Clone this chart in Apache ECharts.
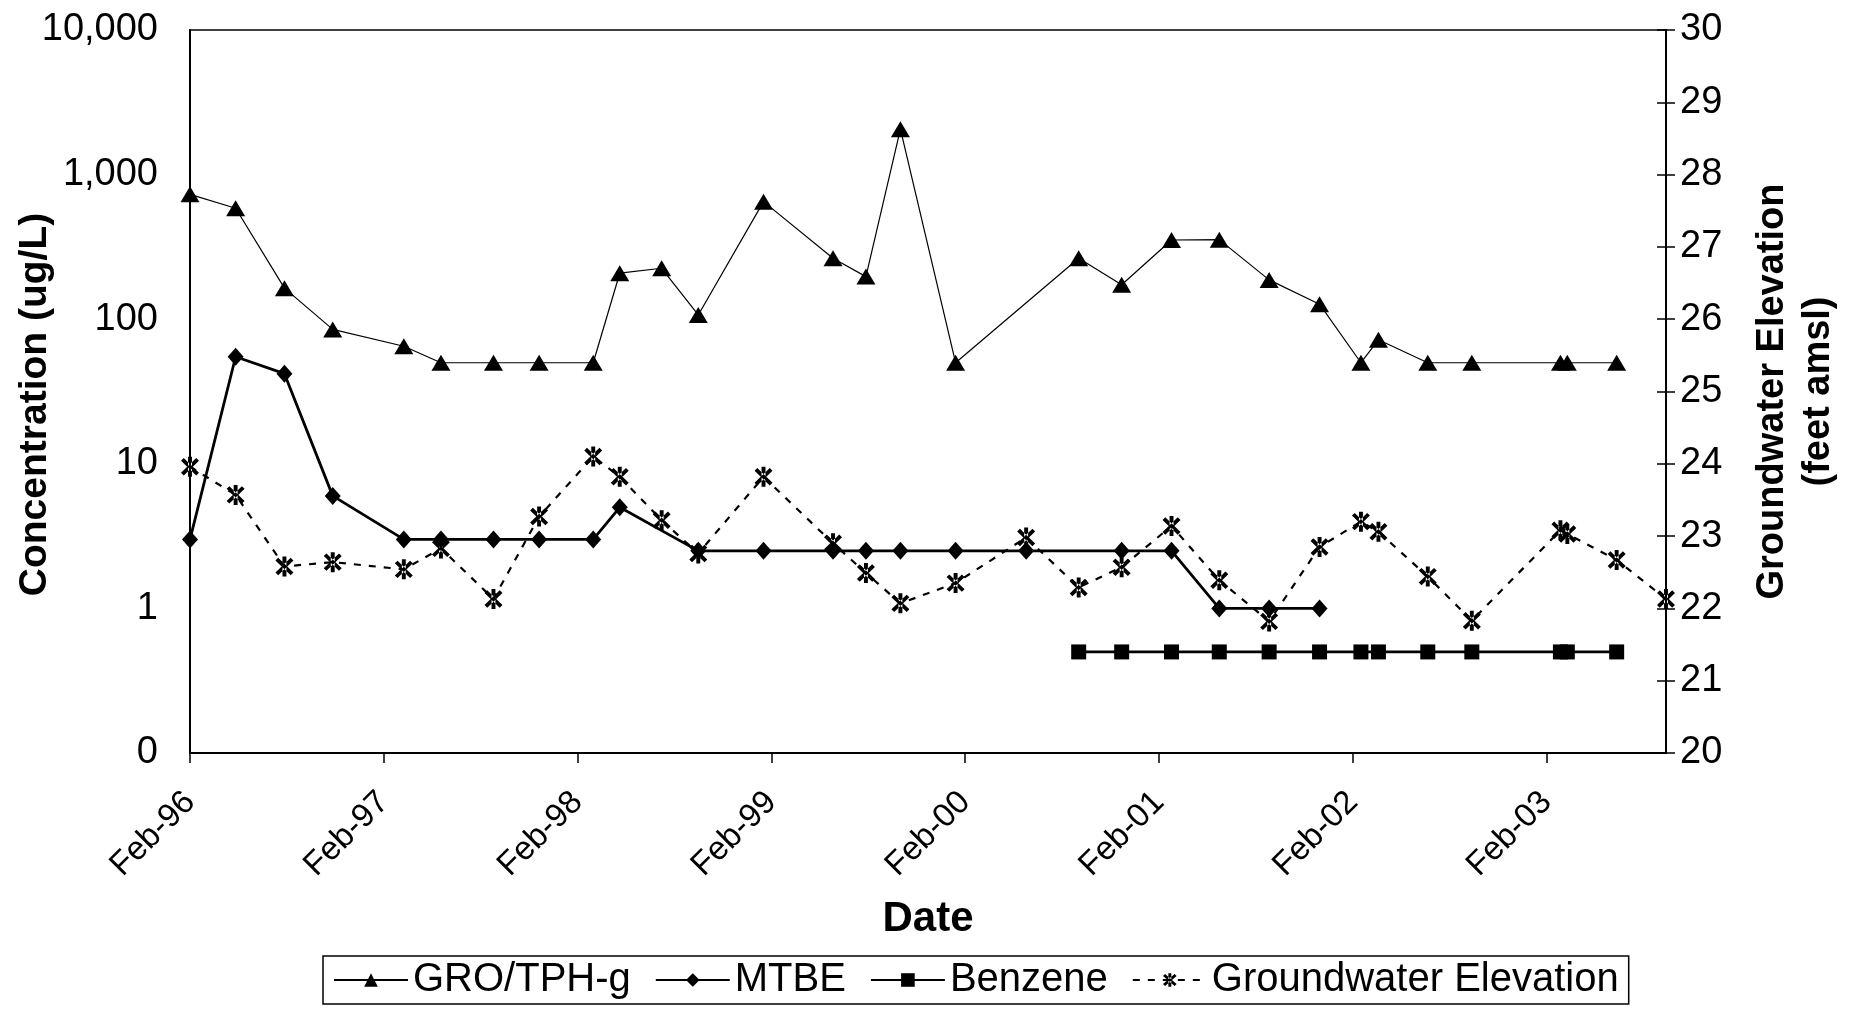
<!DOCTYPE html>
<html>
<head>
<meta charset="utf-8">
<script src="https://cdn.jsdelivr.net/npm/echarts@6/dist/echarts.min.js"></script>
<style>
html,body{margin:0;padding:0;background:#fff;}
#chart{width:1850px;height:1013px;}
</style>
</head>
<body>
<div id="chart"></div>
<script>
// ---- data ----
const xTickLabels = ['Feb-96','Feb-97','Feb-98','Feb-99','Feb-00','Feb-01','Feb-02','Feb-03'];
const axisStartDate = '1996-02-01';
const axisEndDate = '2003-09-14';

const groDates = ['1996-02-01','1996-04-27','1996-07-28','1996-10-27','1997-03-10','1997-05-19','1997-08-26','1997-11-20','1998-03-02','1998-04-21','1998-07-09','1998-09-16','1999-01-17','1999-05-28','1999-07-29','1999-10-02','2000-01-14','2000-09-02','2000-11-22','2001-02-24','2001-05-25','2001-08-27','2001-11-30','2002-02-16','2002-03-21','2002-06-22','2002-09-13','2003-02-27','2003-03-12','2003-06-13'];
const groValues = [730,585,164,85,65,50,50,50,50,208,225,107,650,264,197,2060,50,264,173,353,355,187,127,50,72,50,50,50,50,50];

const mtbeDates = ['1996-02-01','1996-04-27','1996-07-28','1996-10-27','1997-03-10','1997-05-19','1997-08-26','1997-11-20','1998-03-02','1998-04-21','1998-09-16','1999-01-17','1999-05-28','1999-07-29','1999-10-02','2000-01-14','2000-05-26','2000-11-22','2001-02-24','2001-05-25','2001-08-27','2001-11-30'];
const mtbeValues = [3,55,42,6,3,3,3,3,3,5,2.5,2.5,2.5,2.5,2.5,2.5,2.5,2.5,2.5,1,1,1];

const benzeneDates = ['2000-09-02','2000-11-22','2001-02-24','2001-05-25','2001-08-27','2001-11-30','2002-02-16','2002-03-21','2002-06-22','2002-09-13','2003-02-27','2003-03-12','2003-06-13'];
const benzeneValues = [0.5,0.5,0.5,0.5,0.5,0.5,0.5,0.5,0.5,0.5,0.5,0.5,0.5];

const gwDates = ['1996-02-01','1996-04-27','1996-07-28','1996-10-27','1997-03-10','1997-05-19','1997-08-26','1997-11-20','1998-03-02','1998-04-21','1998-07-09','1998-09-16','1999-01-17','1999-05-28','1999-07-29','1999-10-02','2000-01-14','2000-05-26','2000-09-02','2000-11-22','2001-02-24','2001-05-25','2001-08-27','2001-11-30','2002-02-16','2002-03-21','2002-06-22','2002-09-13','2003-02-27','2003-03-12','2003-06-13','2003-09-14'];
const gwValues = [23.96,23.57,22.58,22.64,22.54,22.83,22.13,23.27,24.10,23.82,23.22,22.76,23.82,22.90,22.49,22.07,22.35,22.98,22.29,22.57,23.14,22.39,21.82,22.85,23.20,23.06,22.44,21.83,23.08,23.03,22.67,22.13];

const concTicks = [0.1,1,10,100,1000,10000];
const elevMin = 20, elevMax = 30;

// ---- helpers ----
function dayNum(s){const p=s.split('-').map(Number);return Date.UTC(p[0],p[1]-1,p[2]);}
const T0 = dayNum(axisStartDate);
function yrs(s){return (dayNum(s)-T0)/(365.25*86400000);}
function pairs(dates, vals){return dates.map((d,i)=>[yrs(d), vals[i]]);}
function fmtNum(v){
  if (v < 0.5) return '0';
  const r = Math.round(v);
  return String(r).replace(/\B(?=(\d{3})+(?!\d))/g, ',');
}

const FONT = "'Liberation Sans', Arial, sans-serif";
const starPath = 'path://M-1.8,-9.5L1.8,-9.5L1.8,9.5L-1.8,9.5Z M-8.27,-5.73L5.73,8.27L8.27,5.73L-5.73,-8.27Z M-5.73,8.27L8.27,-5.73L5.73,-8.27L-8.27,5.73Z';

const chart = echarts.init(document.getElementById('chart'), null, {renderer:'canvas'});
chart.setOption({
  animation:false,
  backgroundColor:'#ffffff',
  textStyle:{fontFamily:FONT,color:'#000'},
  grid:{left:190,right:184,top:30,bottom:260,show:true,borderColor:'#000',borderWidth:1.5,containLabel:false,outerBoundsMode:'none'},
  legend:{
    left:323, top:956, orient:'horizontal',
    borderColor:'#000', borderWidth:1.5, padding:[4,10],
    itemWidth:74, itemHeight:17, itemGap:24,
    textStyle:{fontSize:40,color:'#000',fontFamily:FONT},
    data:['GRO/TPH-g','MTBE','Benzene','Groundwater Elevation']
  },
  xAxis:{
    type:'value', min:0, max:yrs(axisEndDate), interval:1,
    name:'Date', nameLocation:'middle', nameGap:145, nameMoveOverlap:false,
    nameTextStyle:{fontSize:42,fontWeight:'bold',color:'#000',fontFamily:FONT},
    axisLine:{show:true,lineStyle:{color:'#000',width:2}},
    axisTick:{show:true,length:10,lineStyle:{color:'#000',width:1.5}},
    splitLine:{show:false},
    axisLabel:{
      rotate:45, fontSize:33, color:'#000', margin:44, showMaxLabel:false,
      formatter:function(v){
        const k = Math.round(v);
        if (Math.abs(v-k) > 0.01 || k < 0 || k >= xTickLabels.length) return '';
        return xTickLabels[k];
      }
    }
  },
  yAxis:[
    {
      type:'log', logBase:10, min:concTicks[0], max:concTicks[concTicks.length-1],
      name:'Concentration (ug/L)', nameLocation:'middle', nameGap:135, nameRotate:90, nameMoveOverlap:false,
      nameTextStyle:{fontSize:39,fontWeight:'bold',color:'#000',fontFamily:FONT,padding:[0,26,0,0]},
      axisLine:{show:true,lineStyle:{color:'#000',width:2}},
      axisTick:{show:false},
      splitLine:{show:false},
      axisLabel:{fontSize:38,color:'#000',margin:32,formatter:fmtNum}
    },
    {
      type:'value', min:elevMin, max:elevMax, interval:1, position:'right',
      name:'Groundwater Elevation\n(feet amsl)', nameLocation:'middle', nameGap:84, nameRotate:90, nameMoveOverlap:false,
      nameTextStyle:{fontSize:38,fontWeight:'bold',color:'#000',lineHeight:46,fontFamily:FONT},
      axisLine:{show:true,lineStyle:{color:'#000',width:2}},
      axisTick:{show:true,length:9,lineStyle:{color:'#000',width:1.5}},
      splitLine:{show:false},
      axisLabel:{fontSize:38,color:'#000',margin:14}
    },
    {
      type:'value', min:elevMin, max:elevMax, interval:1, position:'right',
      axisLine:{show:false},
      axisTick:{show:true,inside:true,length:9,lineStyle:{color:'#000',width:1.5}},
      axisLabel:{show:false}, splitLine:{show:false}
    }
  ],
  series:[
    {
      name:'GRO/TPH-g', type:'line', yAxisIndex:0, data:pairs(groDates,groValues),
      symbol:'triangle', symbolSize:[19,16], showAllSymbol:true,
      lineStyle:{color:'#000',width:1.2}, itemStyle:{color:'#000'}
    },
    {
      name:'MTBE', type:'line', yAxisIndex:0, data:pairs(mtbeDates,mtbeValues),
      symbol:'diamond', symbolSize:[16,18], showAllSymbol:true,
      lineStyle:{color:'#000',width:2.8}, itemStyle:{color:'#000'}
    },
    {
      name:'Benzene', type:'line', yAxisIndex:0, data:pairs(benzeneDates,benzeneValues),
      symbol:'rect', symbolSize:15, showAllSymbol:true,
      lineStyle:{color:'#000',width:2.8}, itemStyle:{color:'#000'}
    },
    {
      name:'Groundwater Elevation', type:'line', yAxisIndex:1, data:pairs(gwDates,gwValues),
      symbol:starPath, symbolSize:[18,20], showAllSymbol:true,
      lineStyle:{color:'#000',width:2.2,type:[7,8]}, itemStyle:{color:'#000'}
    }
  ]
});
</script>
</body>
</html>
